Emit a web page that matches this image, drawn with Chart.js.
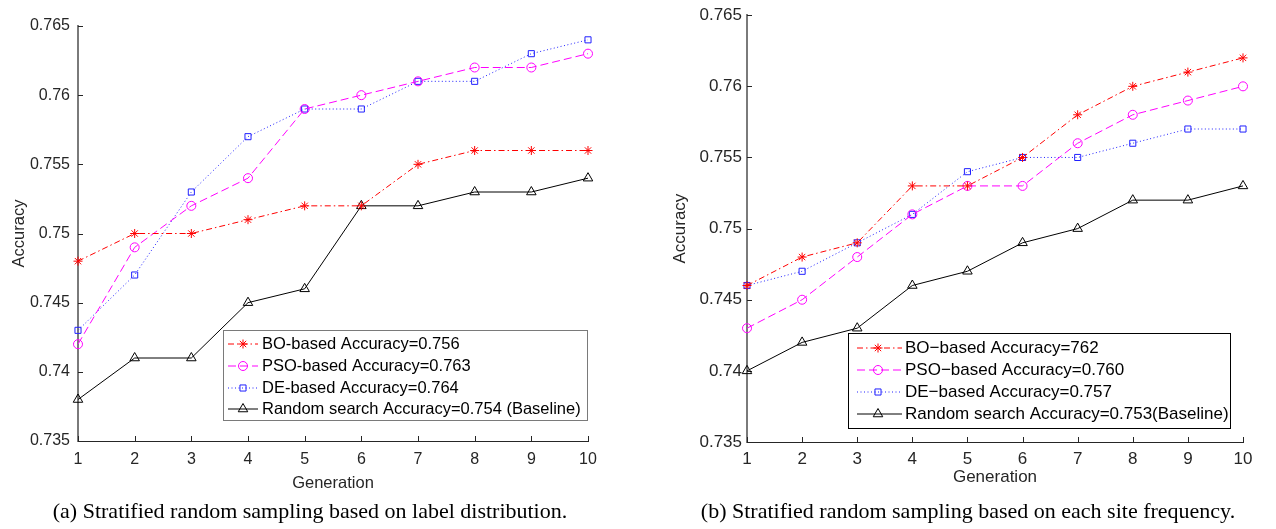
<!DOCTYPE html>
<html><head><meta charset="utf-8">
<script src="https://cdn.jsdelivr.net/npm/chart.js@4/dist/chart.umd.min.js"></script>
<style>
body{margin:0;background:#fff;width:1276px;height:529px;overflow:hidden;position:relative;}
canvas{position:absolute;top:0;}
#c1{left:0}
#c2{left:640px}
.cap{position:absolute;font-family:"Liberation Serif","Times New Roman",serif;font-size:22px;line-height:24px;color:#000;white-space:nowrap;transform:translateX(-50%);top:499px;}
</style></head><body>
<canvas id="c1" width="640" height="529"></canvas>
<canvas id="c2" width="636" height="529"></canvas>
<div class="cap" style="left:310px">(a) Stratified random sampling based on label distribution.</div>
<div class="cap" style="left:968px">(b) Stratified random sampling based on each site frequency.</div>
<script>
const generations = [1,2,3,4,5,6,7,8,9,10];
const yTickValues = [0.735,0.74,0.745,0.75,0.755,0.76,0.765];

const labelsA = ['BO-based Accuracy=0.756','PSO-based Accuracy=0.763','DE-based Accuracy=0.764','Random search Accuracy=0.754 (Baseline)'];
const boA     = [0.748,0.750,0.750,0.751,0.752,0.752,0.755,0.756,0.756,0.756];
const psoA    = [0.742,0.749,0.752,0.754,0.759,0.760,0.761,0.762,0.762,0.763];
const deA     = [0.743,0.747,0.753,0.757,0.759,0.759,0.761,0.761,0.763,0.764];
const randA   = [0.738,0.741,0.741,0.745,0.746,0.752,0.752,0.753,0.753,0.754];

const labelsB = ['BO\u2212based Accuracy=762','PSO\u2212based Accuracy=0.760','DE\u2212based Accuracy=0.757','Random search Accuracy=0.753(Baseline)'];
const boB     = [0.746,0.748,0.749,0.753,0.753,0.755,0.758,0.760,0.761,0.762];
const psoB    = [0.743,0.745,0.748,0.751,0.753,0.753,0.756,0.758,0.759,0.760];
const deB     = [0.746,0.747,0.749,0.751,0.754,0.755,0.755,0.756,0.757,0.757];
const randB   = [0.740,0.742,0.743,0.746,0.747,0.749,0.750,0.752,0.752,0.753];

const styles = [
  {color:'#ff0000', dash:[6,3,1.5,3], point:'star', r:4.5},
  {color:'#ff00ff', dash:[8,4], point:'circle', r:4.5},
  {color:'#2020ff', dash:[1,2.5], point:'rect', r:4.3},
  {color:'#000000', dash:[], point:'triangle', r:5.5}
];

function makeDatasets(labels, series){
  return series.map((vals,i)=>({
    label: labels[i],
    data: generations.map((g,j)=>({x:g, y:vals[j]})),
    borderColor: styles[i].color,
    backgroundColor: 'rgba(0,0,0,0)',
    borderWidth: 1,
    borderDash: styles[i].dash,
    pointStyle: styles[i].point,
    pointRadius: styles[i].r,
    pointBorderWidth: 1,
    pointBorderColor: styles[i].color,
    pointBackgroundColor: 'rgba(0,0,0,0)',
    tension: 0,
    fill: false,
    clip: false
  }));
}

const inwardTicks = {
  id:'inwardTicks',
  beforeDatasetsDraw(chart, args, o){
    const {ctx, chartArea:a, scales:{x,y}} = chart;
    ctx.save();
    ctx.strokeStyle = o.color; ctx.lineWidth = 1; ctx.setLineDash([]);
    ctx.beginPath();
    x.ticks.forEach(t=>{const px=Math.round(x.getPixelForValue(t.value))+0.5; ctx.moveTo(px,a.bottom); ctx.lineTo(px,a.bottom-o.len);});
    y.ticks.forEach(t=>{const py=Math.round(y.getPixelForValue(t.value))+0.5; ctx.moveTo(a.left,py); ctx.lineTo(a.left+o.len,py);});
    ctx.stroke();
    ctx.restore();
  }
};

const boxLegend = {
  id:'boxLegend',
  afterDraw(chart, args, o){
    const ctx = chart.ctx;
    ctx.save();
    ctx.setLineDash([]);
    ctx.fillStyle = '#fff';
    ctx.fillRect(o.x, o.y, o.w, o.h);
    ctx.strokeStyle = o.borderColor; ctx.lineWidth = 1;
    ctx.strokeRect(o.x+0.5, o.y+0.5, o.w, o.h);
    chart.data.datasets.forEach((ds,i)=>{
      const yy = o.rows[i];
      ctx.save();
      ctx.strokeStyle = ds.borderColor; ctx.lineWidth = ds.borderWidth;
      ctx.setLineDash(ds.borderDash || []);
      ctx.beginPath(); ctx.moveTo(o.x1, yy); ctx.lineTo(o.x2, yy); ctx.stroke();
      ctx.restore();
      ctx.save();
      ctx.setLineDash([]);
      ctx.strokeStyle = ds.borderColor; ctx.fillStyle = 'rgba(0,0,0,0)'; ctx.lineWidth = 1;
      Chart.helpers.drawPoint(ctx, {pointStyle: ds.pointStyle, radius: ds.pointRadius, borderWidth: 1, rotation: 0}, o.mx, yy);
      ctx.restore();
      ctx.fillStyle = '#000';
      ctx.font = o.font;
      ctx.textBaseline = 'middle';
      ctx.textAlign = 'left';
      ctx.fillText(ds.label, o.tx, yy);
    });
    ctx.restore();
  }
};

const FONT = "'Liberation Sans', Arial, Helvetica, sans-serif";

function makeChart(id, datasets, cfg){
  return new Chart(document.getElementById(id), {
    type:'line',
    data:{datasets},
    plugins:[inwardTicks, boxLegend],
    options:{
      responsive:false,
      animation:false,
      layout:{padding:cfg.padding},
      plugins:{
        legend:{display:false},
        tooltip:{enabled:false},
        inwardTicks:{color:'#262626', len:5},
        boxLegend:cfg.legend
      },
      scales:{
        x:{
          type:'linear', min:1, max:10,
          grid:{display:false, drawTicks:false},
          border:{display:true, color:'#262626', width:1},
          ticks:{stepSize:1, padding:cfg.xPad, color:'#262626', font:{family:FONT, size:cfg.tickSize}, maxRotation:0},
          title:{display:true, text:'Generation', color:'#262626', font:{family:FONT, size:cfg.titleSize}, padding:{top:0,bottom:0}},
          afterFit:s=>{s.height = cfg.xHeight;}
        },
        y:{
          type:'linear', min:0.735, max:0.765,
          grid:{display:false, drawTicks:false},
          border:{display:true, color:'#7a7a7a', width:2},
          afterBuildTicks:s=>{s.ticks = yTickValues.map(v=>({value:v}));},
          ticks:{padding:cfg.yPad, color:'#262626', font:{family:FONT, size:cfg.tickSize}, callback:v=>String(+(+v).toFixed(3))},
          title:{display:true, text:'Accuracy', color:'#262626', font:{family:FONT, size:cfg.titleSize}, padding:{top:cfg.yTitlePad,bottom:0}},
          afterFit:s=>{s.width = cfg.yWidth;}
        }
      }
    }
  });
}

makeChart('c1', makeDatasets(labelsA,[boA,psoA,deA,randA]), {
  padding:{left:0,right:52,top:26,bottom:36},
  xHeight:52, xPad:9, yWidth:78, yPad:8, yTitlePad:10, tickSize:16, titleSize:16.5,
  legend:{x:223,y:330,w:364,h:90,borderColor:'#7a7a7a',rows:[344,366,388,409],x1:228,x2:258,mx:243,tx:262,font:"16.5px "+FONT}
});

makeChart('c2', makeDatasets(labelsB,[boB,psoB,deB,randB]), {
  padding:{left:22,right:33,top:10,bottom:41},
  xHeight:46, xPad:7, yWidth:85, yPad:5, yTitlePad:8, tickSize:17, titleSize:17,
  legend:{x:208,y:333,w:382,h:95,borderColor:'#000000',rows:[348,370,392,414],x1:217,x2:262,mx:238,tx:265,font:"17px "+FONT}
});
</script>
</body></html>
